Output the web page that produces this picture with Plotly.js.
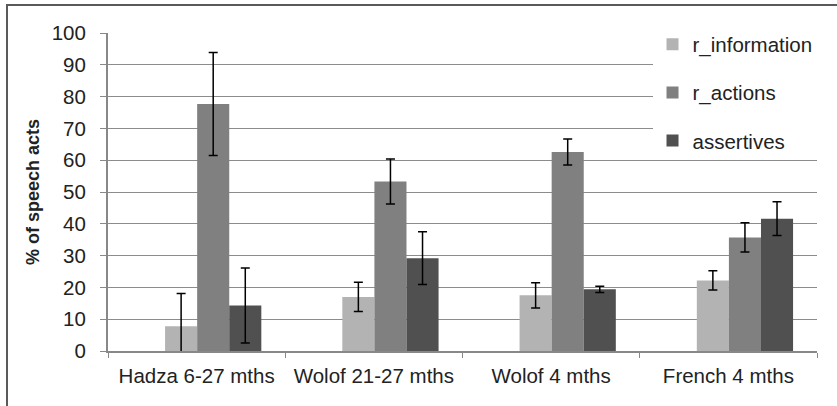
<!DOCTYPE html>
<html>
<head>
<meta charset="utf-8">
<script src="https://cdn.plot.ly/plotly-3.0.1.min.js"></script>
<style>
html,body{margin:0;padding:0;background:#fff;}
#chart{width:837px;height:406px;position:absolute;left:0;top:0;}
#frame{position:absolute;left:6px;top:4px;width:840px;height:410px;border-left:2px solid #5a5a5a;border-top:2px solid #5a5a5a;pointer-events:none;}
</style>
</head>
<body>
<div id="chart"></div>
<div id="frame"></div>
<script>
const categories = ["Hadza 6-27 mths", "Wolof 21-27 mths", "Wolof 4 mths", "French 4 mths"];
const seriesNames = ["r_information", "r_actions", "assertives"];
const rInformation = [7.8, 17.0, 17.5, 22.2];
const rInformationErr = [10.3, 4.6, 4.0, 3.0];
const rActions = [77.7, 53.3, 62.6, 35.7];
const rActionsErr = [16.2, 7.1, 4.1, 4.6];
const assertives = [14.3, 29.2, 19.4, 41.6];
const assertivesErr = [11.8, 8.3, 1.0, 5.3];
const yTicks = [0, 10, 20, 30, 40, 50, 60, 70, 80, 90, 100];

const colors = ["#b3b3b3", "#808080", "#505050"];
const offsets = [-0.178, 0.003, 0.184];
const values = [rInformation, rActions, assertives];
const errs = [rInformationErr, rActionsErr, assertivesErr];

const traces = values.map((v, i) => ({
  type: "bar",
  name: seriesNames[i],
  x: categories,
  y: v,
  width: 0.181,
  offset: offsets[i],
  legendgroup: "g" + i,
  marker: {color: colors[i], line: {width: 0}},
  error_y: {type: "data", array: errs[i], visible: true, color: "#000", thickness: 1.5, width: 4.5}
}));

const font = "'Liberation Sans', Arial, sans-serif";
const layout = {
  width: 837, height: 406,
  margin: {l: 108, r: 20, t: 33, b: 55},
  paper_bgcolor: "#fff", plot_bgcolor: "#fff",
  barmode: "overlay",
  showlegend: true,
  font: {family: font, size: 20, color: "#222"},
  xaxis: {
    type: "category",
    showline: true, linecolor: "#888", linewidth: 2,
    ticks: "outside", tickson: "boundaries", ticklen: 5, tickcolor: "#888", tickwidth: 1,
    showgrid: false,
    ticklabelstandoff: 5,
    tickfont: {family: font, size: 20.5, color: "#222"}
  },
  yaxis: {
    range: [0, 100], tickvals: yTicks, ticktext: yTicks.map(String),
    showline: true, linecolor: "#888", linewidth: 2,
    ticks: "outside", ticklen: 6, tickcolor: "#888",
    showgrid: true, gridcolor: "#8c8c8c", gridwidth: 1,
    zeroline: false,
    ticklabelstandoff: 10,
    tickfont: {family: font, size: 20.5, color: "#222"},
    title: {text: "% of speech acts", font: {family: font, size: 18, color: "#222", weight: "bold"}, standoff: 7}
  },
  legend: {
    x: 0.768, xanchor: "left", y: 1.027, yanchor: "top",
    bgcolor: "#fff",
    font: {family: font, size: 20.5, color: "#222"},
    tracegroupgap: 18.5,
    itemwidth: 30
  }
};

Plotly.newPlot("chart", traces, layout, {displayModeBar: false, staticPlot: true});
</script>
</body>
</html>
